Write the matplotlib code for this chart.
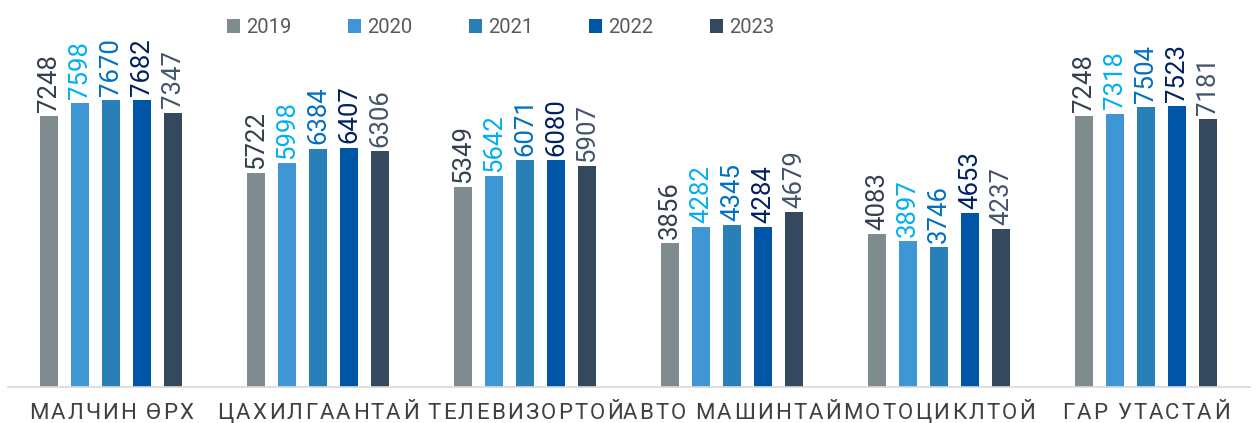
import numpy as np
import matplotlib.pyplot as plt

categories = ["МАЛЧИН ӨРХ", "ЦАХИЛГААНТАЙ", "ТЕЛЕВИЗОРТОЙ",
              "АВТО МАШИНТАЙ", "МОТОЦИКЛТОЙ", "ГАР УТАСТАЙ"]
years = ["2019", "2020", "2021", "2022", "2023"]
values = {
    "2019": [7248, 5722, 5349, 3856, 4083, 7248],
    "2020": [7598, 5998, 5642, 4282, 3897, 7318],
    "2021": [7670, 6384, 6071, 4345, 3746, 7504],
    "2022": [7682, 6407, 6080, 4284, 4653, 7523],
    "2023": [7347, 6306, 5907, 4679, 4237, 7181],
}
bar_colors = ["#7f8c8d", "#3e97d4", "#2980b9", "#0056a6", "#34495e"]
label_colors = ["#333f4f", "#00b0f0", "#0070c0", "#002060", "#44546a"]

plt.rcParams['font.family'] = ['Roboto', 'DejaVu Sans']

fig = plt.figure(figsize=(12.56, 4.23), dpi=100)
ax = fig.add_axes([7.5 / 1256, 36 / 423, 1242 / 1256, 387 / 423])

x = np.arange(len(categories))
step = 0.15
width = 0.087
for i, yr in enumerate(years):
    xs = x + (i - 2) * step
    bars = ax.bar(xs, values[yr], width=width, color=bar_colors[i], label=yr, zorder=2)
    for b, v in zip(bars, values[yr]):
        ax.annotate(str(v), (b.get_x() + b.get_width() / 2, v),
                    xytext=(0, 3), textcoords="offset points",
                    rotation=90, ha="center", va="bottom",
                    fontsize=18.5, color=label_colors[i])

ax.set_xlim(-0.5, len(categories) - 0.5)
ax.set_ylim(0, 10360)
ax.set_yticks([])
ax.set_xticks([])
for s in ["top", "right", "left"]:
    ax.spines[s].set_visible(False)
ax.spines["bottom"].set_color("#d9d9d9")
ax.spines["bottom"].set_linewidth(1.2)

# category labels with letter spacing
fig.canvas.draw()
renderer = fig.canvas.get_renderer()
fs = 16
spacing = 2.2
for xi, name in zip(x, categories):
    widths = []
    for ch in name:
        if ch == " ":
            widths.append(fs * 0.3)
            continue
        t = fig.text(0, 0, ch, fontsize=fs)
        widths.append(t.get_window_extent(renderer).width)
        t.remove()
    total = sum(widths) + spacing * (len(name) - 1)
    cx = ax.transData.transform((xi, 0))[0]
    left = cx - total / 2
    for ch, w in zip(name, widths):
        fig.text(left / fig.bbox.width, 4 / 423, ch, fontsize=fs,
                 color="#404040", ha="left", va="baseline")
        left += w + spacing

leg = ax.legend(loc="upper center", bbox_to_anchor=(0.397, 1.0), ncol=5,
                frameon=False, fontsize=14.5, handlelength=0.65, handleheight=0.65,
                handletextpad=0.3, columnspacing=2.8)
for t in leg.get_texts():
    t.set_color("#595959")

fig.savefig("out.png", dpi=100)
